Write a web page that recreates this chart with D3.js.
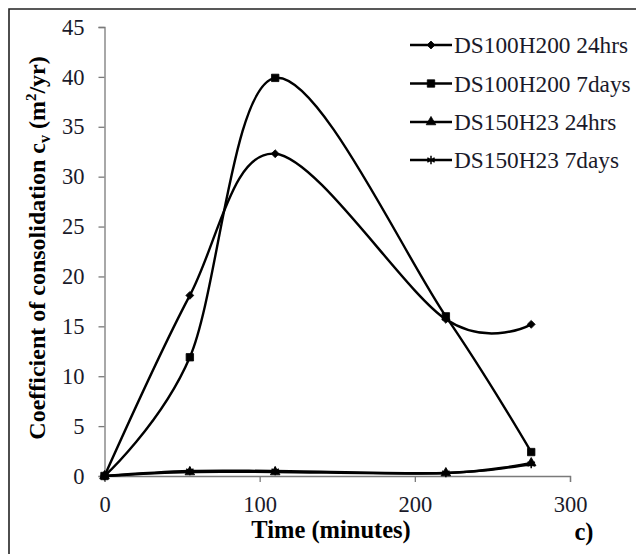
<!DOCTYPE html>
<html>
<head>
<meta charset="utf-8">
<script src="https://cdn.jsdelivr.net/npm/d3@7"></script>
<style>
  html, body { margin: 0; padding: 0; background: #fff; }
  svg { display: block; }
  svg text { font-family: "Liberation Serif", "Times New Roman", Times, serif !important; }
</style>
</head>
<body>
<svg id="chart" width="636" height="554"></svg>
<script>
// ---- data ----
const times = [0, 55, 110, 220, 275];
const ds100h200_24hrs = [0, 18.1, 32.3, 15.7, 15.2];
const ds100h200_7days = [0, 11.9, 39.9, 16.0, 2.4];
const ds150h23_24hrs = [0, 0.4, 0.4, 0.3, 1.3];
const ds150h23_7days = [0, 0.5, 0.5, 0.3, 1.2];
const seriesNames = ["DS100H200 24hrs", "DS100H200 7days", "DS150H23 24hrs", "DS150H23 7days"];
const seriesMarkers = ["diamond", "square", "triangle", "star"];
const xTicks = [0, 100, 200, 300];
const yTicks = [0, 5, 10, 15, 20, 25, 30, 35, 40, 45];

const FONT = '"Liberation Serif", "Times New Roman", Times, serif';
const seriesValues = [ds100h200_24hrs, ds100h200_7days, ds150h23_24hrs, ds150h23_7days];
const series = seriesNames.map((name, i) => ({
  name, marker: seriesMarkers[i],
  points: times.map((t, j) => ({ x: t, y: seriesValues[i][j] }))
}));

const svg = d3.select("#chart").attr("font-family", FONT);

// frame (left and top edges only visible)
svg.append("path").attr("d", "M9,554 V9 H636")
  .attr("fill", "none").attr("stroke", "#222").attr("stroke-width", 1.6);

const x = d3.scaleLinear().domain([0, 300]).range([104.5, 570]);
const y = d3.scaleLinear().domain([0, 45]).range([476, 27]);

// axes
const xAxis = svg.append("g").attr("transform", `translate(0,${y(0)})`)
  .call(d3.axisBottom(x).tickValues(xTicks).tickSize(6).tickPadding(14));
const yAxis = svg.append("g").attr("transform", `translate(${x(0)},0)`)
  .call(d3.axisLeft(y).tickValues(yTicks).tickSize(6).tickPadding(14));
[xAxis, yAxis].forEach(g => {
  g.attr("font-family", FONT).attr("font-size", 22.5);
  g.select(".domain").attr("stroke", "#7a7a7a").attr("stroke-width", 1.3);
  g.selectAll(".tick line").attr("stroke", "#7a7a7a").attr("stroke-width", 1.3);
  g.selectAll(".tick text").attr("fill", "#1a1a2a");
});

// lines
const line = d3.line().x(d => x(d.x)).y(d => y(d.y)).curve(d3.curveCatmullRom.alpha(0));
const symbolFor = {
  diamond: d3.symbol().type(d3.symbolDiamond2).size(40),
  square: d3.symbol().type(d3.symbolSquare2).size(70),
  triangle: d3.symbol().type(d3.symbolTriangle).size(40),
  star: d3.symbol().type(d3.symbolAsterisk).size(50)
};

series.forEach(s => {
  svg.append("path").datum(s.points).attr("d", line)
    .attr("fill", "none").attr("stroke", "#000").attr("stroke-width", 2.4);
});
series.forEach(s => {
  const isStar = s.marker === "star";
  svg.append("g").selectAll("path").data(s.points).join("path")
    .attr("transform", d => `translate(${x(d.x)},${y(d.y)})`)
    .attr("d", symbolFor[s.marker])
    .attr("fill", isStar ? "none" : "#000")
    .attr("stroke", "#000")
    .attr("stroke-width", isStar ? 1.5 : 0.8);
});

// legend
const legendY = [45, 83.5, 122, 160];
const lg = svg.append("g");
series.forEach((s, i) => {
  const cy = legendY[i];
  lg.append("line").attr("x1", 410).attr("x2", 452).attr("y1", cy).attr("y2", cy)
    .attr("stroke", "#000").attr("stroke-width", 2.4);
  const isStar = s.marker === "star";
  lg.append("path").attr("transform", `translate(431,${cy})`)
    .attr("d", symbolFor[s.marker])
    .attr("fill", isStar ? "none" : "#000").attr("stroke", "#000")
    .attr("stroke-width", isStar ? 1.5 : 0.8);
  lg.append("text").attr("x", 454).attr("y", cy + 8)
    .attr("font-family", FONT).attr("font-size", 23.3).attr("fill", "#1a1a2a").text(s.name);
});

// axis titles
svg.append("text").attr("x", 331).attr("y", 538).attr("text-anchor", "middle")
  .attr("font-family", FONT).attr("font-size", 24.5).attr("font-weight", "bold").text("Time (minutes)");
svg.append("text").attr("x", 584).attr("y", 540).attr("text-anchor", "middle")
  .attr("font-family", FONT).attr("font-size", 24.5).attr("font-weight", "bold").text("c)");

const yt = svg.append("text")
  .attr("transform", "translate(45,248) rotate(-90)")
  .attr("text-anchor", "middle")
  .attr("font-family", FONT).attr("font-size", 24).attr("font-weight", "bold");
yt.append("tspan").text("Coefficient of consolidation c");
yt.append("tspan").attr("dy", 5).attr("font-size", 16).text("v");
yt.append("tspan").attr("dy", -5).text(" (m");
yt.append("tspan").attr("dy", -9).attr("font-size", 15).text("2");
yt.append("tspan").attr("dy", 9).text("/yr)");
</script>
</body>
</html>
